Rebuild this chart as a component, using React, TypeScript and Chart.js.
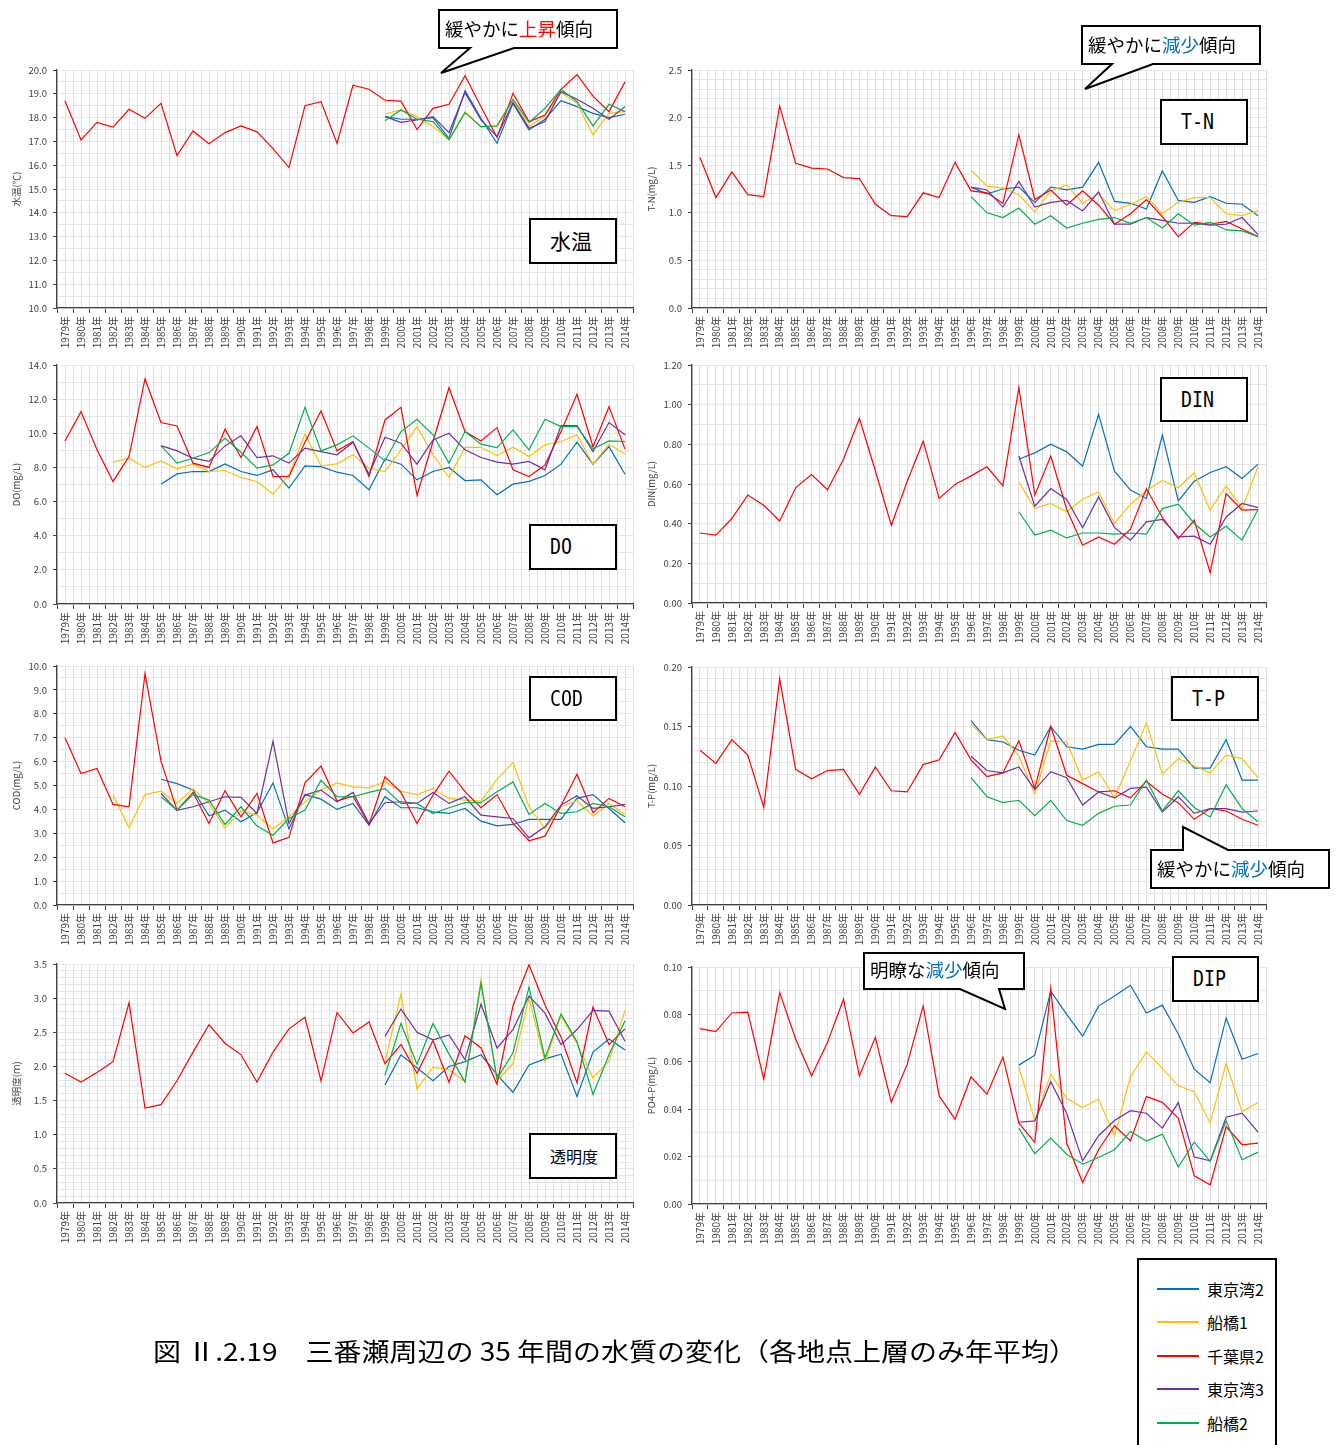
import { useEffect, useRef } from 'react';
import { Chart, registerables } from 'chart.js';

Chart.register(...registerables);

const FONT = '"Noto Sans CJK JP", "Noto Sans", sans-serif';
const GRID = '#dcdcdc';
const GRID_MINOR = '#e6e6e6';
const AXIS = '#404040';
const TXT = '#404040';

const years = [
  '1979年', '1980年', '1981年', '1982年', '1983年', '1984年', '1985年', '1986年', '1987年',
  '1988年', '1989年', '1990年', '1991年', '1992年', '1993年', '1994年', '1995年', '1996年',
  '1997年', '1998年', '1999年', '2000年', '2001年', '2002年', '2003年', '2004年', '2005年',
  '2006年', '2007年', '2008年', '2009年', '2010年', '2011年', '2012年', '2013年', '2014年',
];
const stations = ['東京湾2', '船橋1', '千葉県2', '東京湾3', '船橋2'];
const colors = ['#0070C0', '#FFC000', '#FF0000', '#7030A0', '#00B050'];

// series that start later than 1979 get empty slots in front
const fromYear = (start: number, vals: number[]): (number | null)[] =>
  [...new Array(start - 1979).fill(null), ...vals];

// 水温
const wtChiba2 = [18.7, 17.06, 17.8, 17.6, 18.35, 17.97, 18.6, 16.4, 17.44, 16.9, 17.37, 17.65, 17.4, 16.7, 15.9, 18.5, 18.67, 16.92, 19.36, 19.19, 18.73, 18.69, 17.5, 18.39, 18.56, 19.76, 18.46, 17.17, 19.02, 17.83, 18.11, 19.19, 19.8, 18.9, 18.25, 19.5];
const wtTokyo2 = fromYear(1999, [18.04, 17.93, 17.93, 18.0, 17.13, 19.13, 17.97, 16.92, 18.6, 17.48, 17.93, 18.71, 18.46, 18.18, 18.0, 18.14]);
const wtFunabashi1 = fromYear(1999, [18.15, 18.32, 18.04, 17.62, 17.09, 18.25, 17.62, 17.62, 18.74, 17.62, 18.07, 19.05, 18.6, 17.27, 18.18, 18.25]);
const wtTokyo3 = fromYear(1999, [18.04, 17.8, 17.9, 18.04, 17.37, 19.05, 17.9, 17.2, 18.63, 17.55, 17.83, 19.09, 18.77, 18.39, 17.93, 18.46]);
const wtFunabashi2 = fromYear(1999, [17.87, 18.32, 17.93, 17.83, 17.06, 18.21, 17.62, 17.65, 18.77, 17.8, 18.39, 19.19, 18.67, 17.65, 18.56, 18.25]);

// T-N
const tnChiba2 = [1.58, 1.16, 1.43, 1.19, 1.17, 2.12, 1.52, 1.47, 1.46, 1.37, 1.36, 1.09, 0.97, 0.96, 1.21, 1.16, 1.53, 1.23, 1.21, 1.10, 1.82, 1.14, 1.24, 1.08, 1.23, 1.08, 0.88, 0.99, 1.14, 0.96, 0.75, 0.90, 0.88, 0.91, 0.83, 0.75];
const tnTokyo2 = fromYear(1996, [1.27, 1.20, 1.25, 1.27, 1.11, 1.27, 1.24, 1.27, 1.53, 1.12, 1.10, 1.04, 1.44, 1.13, 1.11, 1.17, 1.10, 1.09, 0.97]);
const tnFunabashi1 = fromYear(1996, [1.45, 1.28, 1.26, 1.19, 1.01, 1.23, 1.29, 1.10, 1.20, 1.02, 1.09, 1.17, 0.99, 1.11, 1.16, 1.16, 0.99, 0.97, 1.02]);
const tnTokyo3 = fromYear(1996, [1.27, 1.24, 1.06, 1.33, 1.06, 1.11, 1.13, 1.02, 1.22, 0.88, 0.88, 0.95, 0.92, 0.89, 0.89, 0.87, 0.88, 0.95, 0.77]);
const tnFunabashi2 = fromYear(1996, [1.17, 1.00, 0.95, 1.05, 0.88, 0.97, 0.84, 0.89, 0.93, 0.95, 0.89, 0.95, 0.84, 0.99, 0.87, 0.90, 0.82, 0.81, 0.75]);

// DO
const doChiba2 = [9.55, 11.27, 9.03, 7.18, 8.64, 13.18, 10.63, 10.43, 8.25, 8.0, 10.24, 8.58, 10.39, 7.47, 7.47, 9.48, 11.31, 8.97, 9.52, 7.47, 10.78, 11.52, 6.36, 9.52, 12.67, 10.1, 9.55, 10.33, 7.86, 7.47, 8.15, 10.1, 12.28, 9.22, 11.56, 9.07];
const doFunabashi1 = fromYear(1982, [8.31, 8.54, 8.0, 8.38, 7.92, 8.19, 7.76, 7.82, 7.41, 7.18, 6.44, 7.57, 9.96, 8.09, 8.21, 8.74, 7.96, 7.76, 9.03, 10.39, 8.74, 7.41, 9.18, 9.18, 8.7, 9.18, 8.64, 9.32, 9.52, 9.91, 8.19, 9.36, 8.79]);
const doTokyo2 = fromYear(1985, [7.02, 7.62, 7.76, 7.76, 8.21, 7.76, 7.53, 7.86, 6.79, 8.09, 8.05, 7.72, 7.53, 6.69, 8.48, 8.19, 7.27, 7.76, 8.0, 7.23, 7.27, 6.4, 7.02, 7.18, 7.53, 8.19, 9.48, 8.19, 9.22, 7.6]);
const doTokyo3 = fromYear(1985, [9.28, 8.97, 8.54, 8.35, 9.26, 9.85, 8.58, 8.68, 8.25, 9.13, 8.93, 8.74, 9.48, 7.6, 9.77, 9.42, 8.19, 9.61, 10.0, 9.03, 8.58, 8.31, 8.19, 8.35, 7.86, 10.45, 10.45, 8.93, 10.63, 9.91]);
const doFunabashi2 = fromYear(1985, [9.28, 8.25, 8.54, 8.87, 9.71, 8.89, 7.96, 8.15, 8.83, 11.52, 8.97, 9.32, 9.85, 9.13, 8.38, 10.1, 10.82, 9.91, 8.25, 10.1, 9.36, 9.16, 10.2, 9.03, 10.82, 10.39, 10.39, 9.09, 9.55, 9.52]);

// DIN
const dinChiba2 = [0.353, 0.342, 0.426, 0.544, 0.493, 0.414, 0.581, 0.648, 0.571, 0.725, 0.931, 0.667, 0.392, 0.614, 0.816, 0.527, 0.598, 0.641, 0.687, 0.591, 1.087, 0.544, 0.741, 0.473, 0.291, 0.333, 0.296, 0.372, 0.577, 0.431, 0.325, 0.417, 0.153, 0.552, 0.468, 0.471];
const dinTokyo2 = fromYear(1999, [0.725, 0.757, 0.801, 0.762, 0.69, 0.951, 0.665, 0.569, 0.527, 0.847, 0.515, 0.614, 0.658, 0.687, 0.628, 0.70]);
const dinFunabashi1 = fromYear(1999, [0.611, 0.476, 0.502, 0.46, 0.523, 0.56, 0.401, 0.498, 0.566, 0.618, 0.581, 0.656, 0.468, 0.591, 0.476, 0.687]);
const dinTokyo3 = fromYear(1999, [0.741, 0.488, 0.577, 0.522, 0.379, 0.535, 0.38, 0.317, 0.409, 0.422, 0.333, 0.337, 0.296, 0.434, 0.502, 0.481]);
const dinFunabashi2 = fromYear(1999, [0.46, 0.342, 0.367, 0.328, 0.353, 0.353, 0.347, 0.353, 0.347, 0.476, 0.498, 0.401, 0.333, 0.387, 0.317, 0.471]);

// COD
const codChiba2 = [7.0, 5.5, 5.71, 4.21, 4.11, 9.68, 6.02, 3.97, 4.71, 3.41, 4.78, 3.69, 4.67, 2.6, 2.83, 5.11, 5.81, 4.35, 4.55, 3.37, 5.36, 4.71, 3.41, 4.6, 5.6, 4.74, 4.07, 4.62, 3.41, 2.69, 2.88, 4.15, 5.47, 3.86, 4.46, 4.11];
const codFunabashi1 = fromYear(1982, [4.62, 3.23, 4.62, 4.76, 4.25, 4.87, 4.25, 3.23, 3.94, 3.76, 3.18, 3.69, 4.32, 4.81, 5.11, 4.94, 4.9, 5.15, 4.76, 4.62, 4.87, 4.46, 4.39, 4.35, 5.26, 5.96, 4.11, 3.2, 4.11, 4.36, 3.73, 4.25, 3.79]);
const codTokyo2 = fromYear(1985, [5.26, 5.08, 4.81, 3.73, 3.97, 3.48, 3.87, 5.11, 3.18, 4.62, 4.43, 4.0, 4.25, 3.34, 4.53, 4.07, 4.07, 3.9, 3.83, 4.04, 3.51, 3.31, 3.37, 3.58, 3.58, 3.58, 4.46, 4.62, 4.04, 3.44]);
const codTokyo3 = fromYear(1985, [4.67, 3.96, 4.11, 4.32, 4.53, 4.5, 3.83, 6.85, 3.41, 4.6, 4.81, 4.32, 4.71, 3.41, 4.28, 4.32, 4.25, 4.71, 4.25, 4.53, 3.76, 3.69, 3.62, 2.81, 3.27, 4.18, 4.57, 4.04, 4.11, 4.21]);
const codFunabashi2 = fromYear(1985, [4.53, 3.97, 4.62, 4.39, 3.37, 4.11, 3.3, 2.92, 3.62, 3.97, 5.22, 4.53, 4.53, 4.71, 4.87, 4.25, 4.25, 3.83, 4.07, 4.28, 4.28, 4.74, 5.15, 3.79, 4.25, 3.83, 3.9, 4.25, 4.11, 3.69]);

// T-P
const tpChiba2 = [0.130, 0.119, 0.139, 0.126, 0.082, 0.190, 0.114, 0.106, 0.113, 0.114, 0.093, 0.116, 0.096, 0.095, 0.118, 0.122, 0.145, 0.122, 0.108, 0.111, 0.138, 0.098, 0.150, 0.109, 0.102, 0.095, 0.096, 0.090, 0.104, 0.093, 0.086, 0.072, 0.081, 0.079, 0.072, 0.067];
const tpTokyo2 = fromYear(1996, [0.155, 0.139, 0.137, 0.130, 0.126, 0.150, 0.133, 0.131, 0.135, 0.135, 0.150, 0.133, 0.131, 0.131, 0.115, 0.115, 0.139, 0.105, 0.105]);
const tpFunabashi1 = fromYear(1996, [0.152, 0.139, 0.142, 0.125, 0.093, 0.138, 0.137, 0.105, 0.112, 0.090, 0.121, 0.153, 0.110, 0.123, 0.117, 0.111, 0.126, 0.123, 0.107]);
const tpTokyo3 = fromYear(1996, [0.125, 0.113, 0.111, 0.116, 0.097, 0.112, 0.107, 0.084, 0.095, 0.090, 0.098, 0.099, 0.078, 0.091, 0.077, 0.081, 0.081, 0.078, 0.079]);
const tpFunabashi2 = fromYear(1996, [0.107, 0.091, 0.086, 0.088, 0.075, 0.088, 0.071, 0.067, 0.077, 0.083, 0.084, 0.105, 0.079, 0.096, 0.082, 0.074, 0.101, 0.081, 0.070]);

// 透明度
const trChiba2 = [1.90, 1.77, 1.91, 2.07, 2.93, 1.39, 1.44, 1.79, 2.21, 2.61, 2.34, 2.17, 1.77, 2.21, 2.55, 2.72, 1.79, 2.79, 2.49, 2.65, 2.04, 2.32, 1.90, 2.38, 1.77, 2.45, 2.27, 1.74, 2.89, 3.49, 2.9, 2.43, 1.76, 2.87, 2.32, 2.55];
const trTokyo2 = fromYear(1999, [1.73, 2.17, 1.98, 1.79, 2.0, 2.07, 2.17, 1.88, 1.62, 2.02, 2.11, 2.18, 1.56, 2.21, 2.4, 2.24]);
const trFunabashi1 = fromYear(1999, [2.07, 3.06, 1.67, 1.99, 1.95, 1.78, 3.27, 1.79, 2.04, 3.0, 2.07, 2.74, 2.34, 1.83, 2.08, 2.82]);
const trTokyo3 = fromYear(1999, [2.44, 2.84, 2.5, 2.39, 2.46, 2.1, 2.91, 2.27, 2.54, 3.03, 2.78, 2.32, 2.54, 2.82, 2.81, 2.37]);
const trFunabashi2 = fromYear(1999, [1.87, 2.63, 2.03, 2.63, 2.18, 1.77, 3.22, 1.82, 2.2, 3.16, 2.12, 2.77, 2.36, 1.59, 2.17, 2.67]);

// DIP (PO4-P)
const dipChiba2 = [0.0740, 0.0727, 0.0806, 0.0810, 0.0527, 0.0892, 0.0696, 0.0541, 0.0682, 0.0864, 0.0541, 0.0703, 0.0429, 0.0590, 0.0836, 0.0456, 0.0358, 0.0536, 0.0463, 0.0620, 0.0341, 0.0260, 0.0909, 0.0257, 0.0091, 0.0229, 0.0330, 0.0266, 0.0453, 0.0429, 0.0362, 0.0119, 0.0081, 0.0327, 0.0250, 0.0257];
const dipTokyo2 = fromYear(1999, [0.0586, 0.0628, 0.0898, 0.0800, 0.0708, 0.0835, 0.0878, 0.0923, 0.0806, 0.0839, 0.0717, 0.0569, 0.0512, 0.0785, 0.0611, 0.0635]);
const dipFunabashi1 = fromYear(1999, [0.0579, 0.0352, 0.0548, 0.0446, 0.0407, 0.0443, 0.0288, 0.0537, 0.0642, 0.0572, 0.0499, 0.0474, 0.0341, 0.0593, 0.0390, 0.0428]);
const dipTokyo3 = fromYear(1999, [0.0345, 0.0351, 0.0516, 0.0383, 0.0182, 0.0288, 0.0352, 0.0394, 0.0383, 0.0320, 0.0428, 0.0198, 0.0182, 0.0366, 0.0383, 0.0303]);
const dipFunabashi2 = fromYear(1999, [0.0320, 0.0212, 0.0278, 0.0210, 0.0168, 0.0196, 0.0229, 0.0306, 0.0266, 0.0295, 0.0156, 0.0261, 0.0180, 0.0351, 0.0187, 0.0219]);

type PanelDef = {
  left: number; top: number; right: number; bottom: number;
  min: number; max: number; step: number; minor: number; digits: number;
  yTitle: string; series: (number | null)[][];
};

// plot-area rectangles in page pixels
const panels: PanelDef[] = [
  { left: 57, top: 70, right: 633, bottom: 308, min: 10, max: 20, step: 1, minor: 0.5, digits: 1, yTitle: '水温(℃)', series: [wtTokyo2, wtFunabashi1, wtChiba2, wtTokyo3, wtFunabashi2] },
  { left: 692, top: 70, right: 1266, bottom: 308, min: 0, max: 2.5, step: 0.5, minor: 0.1, digits: 1, yTitle: 'T-N(mg/L)', series: [tnTokyo2, tnFunabashi1, tnChiba2, tnTokyo3, tnFunabashi2] },
  { left: 57, top: 365, right: 633, bottom: 604, min: 0, max: 14, step: 2, minor: 1, digits: 1, yTitle: 'DO(mg/L)', series: [doTokyo2, doFunabashi1, doChiba2, doTokyo3, doFunabashi2] },
  { left: 692, top: 365, right: 1266, bottom: 603, min: 0, max: 1.2, step: 0.2, minor: 0.1, digits: 2, yTitle: 'DIN(mg/L)', series: [dinTokyo2, dinFunabashi1, dinChiba2, dinTokyo3, dinFunabashi2] },
  { left: 57, top: 666, right: 633, bottom: 905, min: 0, max: 10, step: 1, minor: 0.5, digits: 1, yTitle: 'COD(mg/L)', series: [codTokyo2, codFunabashi1, codChiba2, codTokyo3, codFunabashi2] },
  { left: 692, top: 667, right: 1266, bottom: 905, min: 0, max: 0.2, step: 0.05, minor: 0.01, digits: 2, yTitle: 'T-P(mg/L)', series: [tpTokyo2, tpFunabashi1, tpChiba2, tpTokyo3, tpFunabashi2] },
  { left: 57, top: 964, right: 633, bottom: 1203, min: 0, max: 3.5, step: 0.5, minor: 0.1, digits: 1, yTitle: '透明度(ｍ)', series: [trTokyo2, trFunabashi1, trChiba2, trTokyo3, trFunabashi2] },
  { left: 692, top: 967, right: 1266, bottom: 1204, min: 0, max: 0.1, step: 0.02, minor: 0.01, digits: 2, yTitle: 'PO4-P(mg/L)', series: [dipTokyo2, dipFunabashi1, dipChiba2, dipTokyo3, dipFunabashi2] },
];

const PAD_L = 7;
const Y_W = 50;
const PAD_R = 6;
const PAD_T = 12;
const X_H = 44;

function Panel({ p }: { p: PanelDef }) {
  const ref = useRef<HTMLCanvasElement>(null);
  const w = p.right - p.left + PAD_L + Y_W + PAD_R;
  const h = p.bottom - p.top + PAD_T + X_H;

  useEffect(() => {
    if (!ref.current) return;
    const chart = new Chart(ref.current, {
      type: 'line',
      data: {
        labels: years,
        datasets: p.series.map((data, i) => ({
          label: stations[i],
          data,
          borderColor: colors[i],
          backgroundColor: colors[i],
          borderWidth: 1.2,
          pointRadius: 0,
          tension: 0,
          fill: false,
          order: 4 - i,
        })),
      },
      options: {
        animation: false,
        responsive: true,
        maintainAspectRatio: false,
        layout: { padding: { left: PAD_L, top: PAD_T, right: PAD_R, bottom: 0 } },
        plugins: { legend: { display: false }, tooltip: { enabled: false } },
        scales: {
          x: {
            type: 'category',
            offset: true,
            grid: { offset: true, color: GRID, tickColor: AXIS, tickLength: 5 },
            border: { color: AXIS, width: 1.3 },
            ticks: {
              autoSkip: false, minRotation: 90, maxRotation: 90, padding: 3,
              color: TXT, font: { family: FONT, size: 10 },
            },
            afterFit: (s: any) => { s.height = X_H; s.paddingLeft = 0; s.paddingRight = 0; },
          },
          // second category axis only to draw the gridlines through the category centres
          xc: {
            type: 'category',
            offset: true,
            position: 'bottom',
            grid: { offset: false, color: GRID, drawTicks: false },
            border: { display: false },
            ticks: { display: false },
            afterFit: (s: any) => { s.height = 0; s.paddingLeft = 0; s.paddingRight = 0; },
          },
          y: {
            min: p.min,
            max: p.max,
            grid: { color: GRID, tickColor: AXIS, tickLength: 4 },
            border: { color: AXIS, width: 1.3 },
            ticks: {
              stepSize: p.step,
              padding: 6,
              color: TXT,
              font: { family: FONT, size: 9.5 },
              callback: (v: any) => Number(v).toFixed(p.digits),
            },
            title: { display: true, text: p.yTitle, color: TXT, font: { family: FONT, size: 9.5 }, padding: { top: 4, bottom: 0 } },
            afterFit: (s: any) => { s.width = Y_W; s.paddingTop = 0; s.paddingBottom = 0; },
          },
          // minor horizontal gridlines
          ym: {
            min: p.min,
            max: p.max,
            position: 'left',
            grid: { color: GRID_MINOR, drawTicks: false },
            border: { display: false },
            ticks: { display: false, stepSize: p.minor },
            afterFit: (s: any) => { s.width = 0; s.paddingTop = 0; s.paddingBottom = 0; },
          },
        },
      },
    } as any);
    return () => chart.destroy();
  }, [p]);

  return (
    <div style={{ position: 'absolute', left: p.left - PAD_L - Y_W, top: p.top - PAD_T, width: w, height: h }}>
      <canvas ref={ref} />
    </div>
  );
}

const labelBoxes = [
  { text: '水温', left: 529, top: 218, w: 88, h: 46, latin: false, size: 21 },
  { text: 'T-N', left: 1160, top: 99, w: 88, h: 46, latin: true, size: 22 },
  { text: 'DO', left: 529, top: 524, w: 88, h: 46, latin: true, size: 22 },
  { text: 'DIN', left: 1160, top: 377, w: 88, h: 45, latin: true, size: 22 },
  { text: 'COD', left: 529, top: 676, w: 88, h: 45, latin: true, size: 22 },
  { text: 'T-P', left: 1171, top: 676, w: 88, h: 45, latin: true, size: 22 },
  { text: '透明度', left: 529, top: 1133, w: 88, h: 46, latin: false, size: 16 },
  { text: 'DIP', left: 1172, top: 956, w: 87, h: 46, latin: true, size: 22 },
];

const bubbleFont = 18.5;

export default function App() {
  return (
    <div style={{ position: 'absolute', left: 0, top: 0, width: 1338, height: 1445, background: '#fff', overflow: 'hidden', fontFamily: FONT }}>
      {panels.map((p, i) => <Panel key={i} p={p} />)}

      {labelBoxes.map((b, i) => (
        <div key={i} style={{
          position: 'absolute', left: b.left, top: b.top, width: b.w, height: b.h, boxSizing: 'border-box',
          border: '2px solid #000', background: '#fff',
        }}>
          <span style={{
            position: 'absolute', left: 19, top: '50%',
            transform: b.latin ? 'translateY(-52%) scaleX(0.83)' : 'translateY(-52%)',
            transformOrigin: 'left center', whiteSpace: 'nowrap', lineHeight: 1,
            fontFamily: b.latin ? '"DejaVu Sans Mono", monospace' : FONT,
            fontSize: b.size, color: '#000',
          }}>{b.text}</span>
        </div>
      ))}

      <svg width={1338} height={1445} style={{ position: 'absolute', left: 0, top: 0, pointerEvents: 'none' }}>
        <g fill="#fff" stroke="#000" strokeWidth={2} strokeLinejoin="miter">
          <polygon points="439,10 617,10 617,48 514,48 441,73 470,48 439,48" />
          <polygon points="1082,26 1260,26 1260,64 1153,64 1085,89 1112,64 1082,64" />
          <polygon points="1151,850 1183,850 1183,827 1228,850 1329,850 1329,888 1151,888" />
          <polygon points="864,953 1024,953 1024,989 999,989 1005,1009 960,989 864,989" />
        </g>
        <g fontFamily={FONT} fontSize={bubbleFont} fill="#000">
          <text x={445} y={36}>緩やかに<tspan fill="#FF0000">上昇</tspan>傾向</text>
          <text x={1088} y={52}>緩やかに<tspan fill="#0070C0">減少</tspan>傾向</text>
          <text x={1157} y={876}>緩やかに<tspan fill="#0070C0">減少</tspan>傾向</text>
          <text x={870} y={977}>明瞭な<tspan fill="#0070C0">減少</tspan>傾向</text>
        </g>
      </svg>

      <div style={{
        position: 'absolute', left: 153, top: 1338, fontSize: 25, lineHeight: 1, whiteSpace: 'nowrap', color: '#000',
        transform: 'scaleX(1.12)', transformOrigin: 'left top',
      }}>
        図 Ⅱ.2.19　三番瀬周辺の 35 年間の水質の変化（各地点上層のみ年平均）
      </div>

      <div style={{ position: 'absolute', left: 1137, top: 1258, width: 140, height: 200, boxSizing: 'border-box', border: '2px solid #000', background: '#fff' }}>
        {stations.map((s, i) => (
          <div key={s} style={{ position: 'absolute', left: 18, top: 18.5 + i * 33.6, height: 20, display: 'flex', alignItems: 'center' }}>
            <div style={{ width: 42, height: 2, background: colors[i] }} />
            <span style={{ marginLeft: 8, fontSize: 16, lineHeight: 1, color: '#000' }}>{s}</span>
          </div>
        ))}
      </div>
    </div>
  );
}
